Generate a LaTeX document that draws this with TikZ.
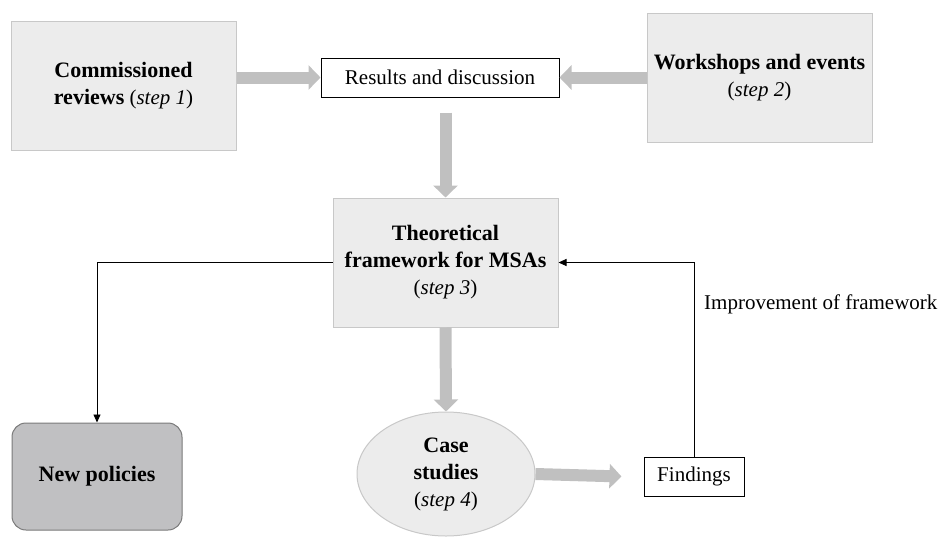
\documentclass[tikz,border=0pt]{standalone}
\usepackage{fontspec}
\setmainfont{Liberation Serif}
\usetikzlibrary{shapes.geometric,arrows.meta,calc}
\definecolor{boxfill}{HTML}{ECECEC}
\definecolor{boxline}{HTML}{C8C8C8}
\definecolor{arrowgray}{HTML}{C0C0C0}
\definecolor{polfill}{HTML}{C0C0C2}
\definecolor{polline}{HTML}{7A7A7A}
\newcommand{\bigb}[1]{{\fontsize{22}{27}\selectfont\bfseries #1}}
\tikzset{
  graybox/.style={rectangle, draw=boxline, fill=boxfill, line width=1pt,
    minimum width=225pt, minimum height=129pt, align=center, inner sep=2pt},
  whitebox/.style={rectangle, draw=black, fill=white, line width=1pt,
    minimum height=39pt, align=center, inner sep=2pt},
  polbox/.style={rectangle, rounded corners=14pt, draw=polline, fill=polfill, line width=1pt,
    minimum width=170pt, minimum height=107pt, align=center},
  casebox/.style={ellipse, draw=boxline, fill=boxfill, line width=1pt,
    minimum width=178pt, minimum height=124pt, align=center, inner sep=0pt},
  bigarrow/.style={draw=arrowgray, line width=12pt,
    -{Triangle[length=12pt,width=24pt]}},
  thinarrow/.style={draw=black, line width=0.9pt,
    -{Triangle[length=8pt,width=7pt]}},
  every node/.style={font=\fontsize{21}{27}\selectfont}
}
\begin{document}
\begin{tikzpicture}[x=1pt,y=-1pt]
\useasboundingbox (0,0) rectangle (942,536);
\node[graybox] (comm) at (123.5,85.5) {\bigb{Commissioned}\\\bigb{reviews} (\textit{step 1})};
\node[whitebox, minimum width=238pt] (res) at (440,77.5) {Results and discussion};
\node[graybox] (work) at (759.5,77.5) {\bigb{Workshops and events}\\(\textit{step 2})};
\node[graybox] (theo) at (445.5,262.5) {\bigb{Theoretical}\\\bigb{framework for MSAs}\\(\textit{step 3})};
\node[polbox] (pol) at (97,476.5) {\bigb{New policies}};
\node[casebox] (case) at (446,474) {\bigb{Case}\\\bigb{studies}\\(\textit{step 4})};
\node[whitebox, minimum width=100pt] (find) at (694,476.5) {Findings};
\node[anchor=west, inner sep=0pt] (impr) at (704,304) {Improvement of framework};

\draw[bigarrow] (comm.east |- res.west) -- (res.west);
\draw[bigarrow] (work.west |- res.east) -- (res.east);
\draw[bigarrow] ([yshift=-15pt]theo.north |- res.south) -- (theo.north);
\draw[bigarrow] (theo.south) -- (case.north);
\draw[bigarrow] (case.east) -- ([xshift=-22pt]find.west);
\draw[thinarrow] (theo.west) -| (pol.north);
\draw[thinarrow] (find.north) |- (theo.east);
\end{tikzpicture}
\end{document}
